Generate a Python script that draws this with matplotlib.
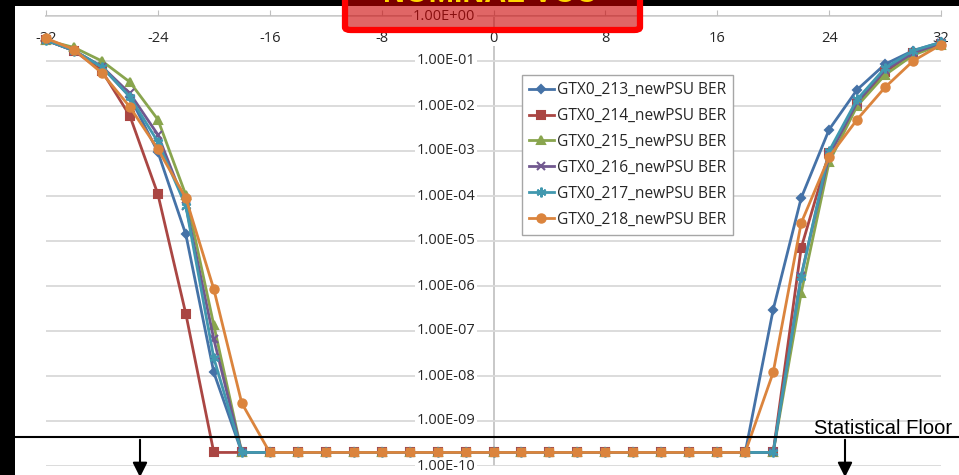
import matplotlib
matplotlib.use("Agg")
import matplotlib.pyplot as plt
import numpy as np
from matplotlib.patches import Rectangle, FancyBboxPatch, FancyArrowPatch
from matplotlib.lines import Line2D
from matplotlib.transforms import offset_copy
from matplotlib.ticker import NullLocator

F = 2e-10  # statistical floor value used by the tool

x_taps = [-32, -30, -28, -26, -24, -22, -20, -18, -16, -14, -12, -10, -8, -6, -4, -2,
          0, 2, 4, 6, 8, 10, 12, 14, 16, 18, 20, 22, 24, 26, 28, 30, 32]

ber_213 = [0.29, 0.17, 0.074, 0.016, 9.5e-4, 1.4e-5, 1.2e-8, F] + [F] * 17 + \
          [F, 3e-7, 9e-5, 3e-3, 0.023, 0.085, 0.17, 0.26]
ber_214 = [0.29, 0.17, 0.06, 6e-3, 1.1e-4, 2.4e-7, F, F] + [F] * 17 + \
          [F, F, 7e-6, 9e-4, 0.011, 0.057, 0.15, 0.24]
ber_215 = [0.29, 0.2, 0.1, 0.034, 5e-3, 1.05e-4, 1.35e-7, F] + [F] * 17 + \
          [F, F, 7e-7, 5.7e-4, 0.01, 0.049, 0.135, 0.23]
ber_216 = [0.29, 0.17, 0.075, 0.019, 2.3e-3, 6e-5, 6.6e-8, F] + [F] * 17 + \
          [F, F, 1.7e-6, 8e-4, 0.012, 0.063, 0.15, 0.25]
ber_217 = [0.29, 0.17, 0.074, 0.016, 1.6e-3, 6e-5, 2.5e-8, F] + [F] * 17 + \
          [F, F, 1.6e-6, 1e-3, 0.014, 0.07, 0.17, 0.26]
ber_218 = [0.32, 0.18, 0.054, 9.5e-3, 1.1e-3, 9e-5, 8.5e-7, 2.5e-9] + [F] * 17 + \
          [F, 1.2e-8, 2.5e-5, 7.4e-4, 5e-3, 0.026, 0.1, 0.23]

labels = ["GTX0_213_newPSU BER", "GTX0_214_newPSU BER", "GTX0_215_newPSU BER",
          "GTX0_216_newPSU BER", "GTX0_217_newPSU BER", "GTX0_218_newPSU BER"]
x_ticks = [-32, -24, -16, -8, 0, 8, 16, 24, 32]
y_exps = list(range(0, -11, -1))

W, H = 959, 475
TICK_FONT = ["Open Sans", "DejaVu Sans"]


def fx(px):
    return px / W


def fy(py):
    return 1 - py / H


def main():
    fig = plt.figure(figsize=(W / 100, H / 100), dpi=100, facecolor="black")

    # white chart area inside the black screenshot frame
    bg = Rectangle((fx(15), 0), 1, fy(6), transform=fig.transFigure,
                   facecolor="white", edgecolor="none", zorder=-10)
    fig.add_artist(bg)

    ax = fig.add_axes([fx(46), fy(466), fx(941) - fx(46), fy(16) - fy(466)])
    ax.set_facecolor("none")
    ax.set_yscale("log")
    ax.set_xlim(-32, 32)
    ax.set_ylim(1e-10, 1)
    for s in ax.spines.values():
        s.set_visible(False)

    ax.set_yticks([10.0 ** k for k in y_exps])
    ax.yaxis.set_minor_locator(NullLocator())
    ax.set_yticklabels([])
    ax.tick_params(axis="y", length=0)
    ax.grid(axis="y", color="#D9D9D9", linewidth=1.3, zorder=0)

    ax.set_xticks(x_ticks)
    ax.tick_params(axis="x", top=True, bottom=False, labeltop=False, labelbottom=False,
                   direction="out", length=4, color="#BFBFBF")
    ax.axhline(1, color="#BFBFBF", linewidth=1.2, zorder=1, clip_on=False)
    ax.axvline(0, color="#BFBFBF", linewidth=1.2, zorder=1)

    xt = offset_copy(ax.transData, fig=fig, y=-22, units="dots")
    for v in x_ticks:
        ax.text(v, 1, str(v), transform=xt, ha="center", va="center", fontsize=10.5,
                family=TICK_FONT, color="#262626", zorder=2,
                bbox=dict(boxstyle="square,pad=0.05", fc="white", ec="none"))
    yt = offset_copy(ax.transData, fig=fig, x=-18, units="dots")
    for k in y_exps:
        ax.text(0, 10.0 ** k, f"{10.0 ** k:.2E}", transform=yt, ha="right", va="center",
                fontsize=10.5, family=TICK_FONT, color="#262626", zorder=2,
                bbox=dict(boxstyle="square,pad=0.1", fc="white", ec="none"))

    series = [ber_213, ber_214, ber_215, ber_216, ber_217, ber_218]
    colors = ["#4572A7", "#AA4643", "#89A54E", "#71588F", "#4198AF", "#DB843D"]
    markers = ["D", "s", "^", "x", (6, 2, 0), "o"]
    sizes = [4.5, 6, 6, 6, 7, 6.5]

    x = np.array(x_taps)
    handles = []
    for vals, c, m, ms, lab in zip(series, colors, markers, sizes, labels):
        y = np.array(vals)
        if lab.endswith("218_newPSU BER"):
            above = y > F
            ln, = ax.plot(x, y, color=c, linewidth=2, marker=m, markersize=ms,
                          markevery=list(np.where(above)[0]), label=lab,
                          clip_on=False, zorder=5)
            ax.plot(x[~above], y[~above], linestyle="none", marker="s", markersize=6,
                    color=c, clip_on=False, zorder=5)
        else:
            ln, = ax.plot(x, y, color=c, linewidth=2, marker=m, markersize=ms,
                          markeredgewidth=1.5, label=lab, clip_on=False, zorder=4)
        handles.append(ln)

    leg = ax.legend(handles=handles, loc="upper left", bbox_to_anchor=(fx(522), fy(75)),
                    bbox_transform=fig.transFigure, borderaxespad=0, frameon=True,
                    fancybox=False, edgecolor="#A6A6A6", framealpha=1,
                    prop=dict(family=TICK_FONT, size=11.2), labelspacing=0.64,
                    handlelength=1.6, handletextpad=0.2, borderpad=0.45)
    leg.get_frame().set_linewidth(1.0)
    leg.set_zorder(6)
    for t in leg.get_texts():
        t.set_color("#262626")

    # statistical floor annotation
    fig.add_artist(Line2D([0, 1], [fy(437), fy(437)], transform=fig.transFigure,
                          color="black", linewidth=1.5, zorder=8))
    for px in (140, 845):
        fig.add_artist(FancyArrowPatch((fx(px), fy(437)), (fx(px), fy(480)),
                                       transform=fig.transFigure, arrowstyle="-|>",
                                       mutation_scale=22, color="black", linewidth=1.5,
                                       zorder=8))
    fig.text(fx(952), fy(434), "Statistical Floor", ha="right", va="baseline",
             fontsize=14.5, family=["Liberation Sans", "DejaVu Sans"], color="black",
             zorder=8)

    # red highlight box at the top
    box = FancyBboxPatch((fx(345), fy(30)), fx(640) - fx(345), fy(-20) - fy(30),
                         boxstyle="round,pad=0,rounding_size=0.006",
                         transform=fig.transFigure, facecolor=(0.8, 0, 0, 0.6),
                         edgecolor="#FF0000", linewidth=4.5, zorder=10)
    fig.add_artist(box)
    fig.text(fx(490), fy(1.5), "NOMINAL VCC", ha="center", va="baseline", fontsize=22,
             fontweight="bold", color="#FFD700", family=["Liberation Sans", "DejaVu Sans"],
             zorder=11)

    fig.savefig("out.png", dpi=100, facecolor="black")
    plt.close(fig)


if __name__ == "__main__":
    main()
